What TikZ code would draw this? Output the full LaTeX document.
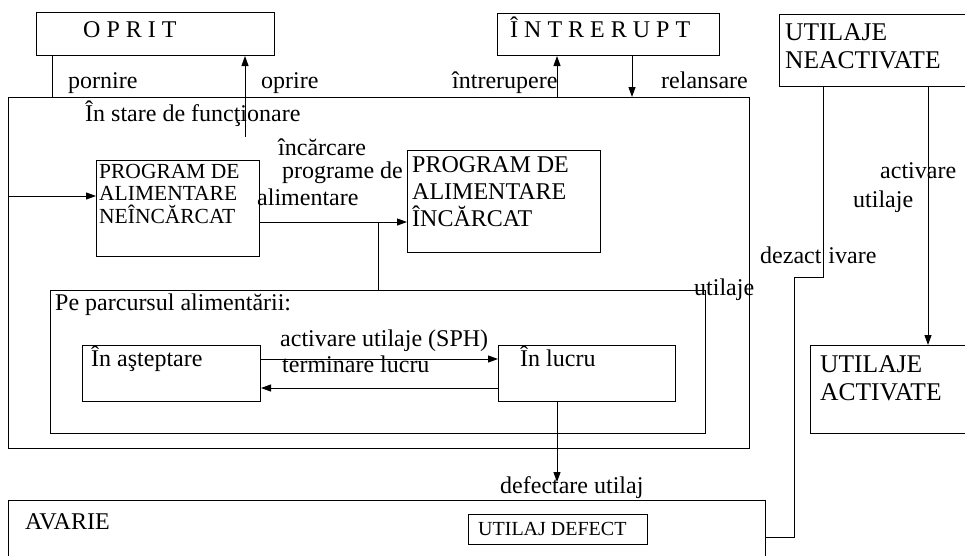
\documentclass[tikz,border=0pt]{standalone}
\usepackage{fontspec}
\setmainfont{Liberation Serif}
\usetikzlibrary{arrows.meta}
\begin{document}
\begin{tikzpicture}[x=1pt,y=-1pt,
  box/.style={draw, line width=1pt, inner sep=0pt, anchor=north west},
  txt/.style={inner sep=0pt, anchor=base west, font=\fontsize{24}{28}\selectfont},
  smalltxt/.style={txt, font=\fontsize{21.5}{24}\selectfont},
  bigtxt/.style={txt, font=\fontsize{25.5}{30}\selectfont},
  tinytxt/.style={txt, font=\fontsize{20}{24}\selectfont},
  wire/.style={line width=1pt},
  arr/.style={wire, -{Triangle[length=10pt,width=7pt]}},
]
\fill[white] (0,0) rectangle (965,555);
\useasboundingbox (0,0) rectangle (965,555);

% state boxes
\node[box, minimum width=238pt, minimum height=43pt] (oprit) at (36,12) {};
\node[box, minimum width=222pt, minimum height=42pt] (intr) at (497,13) {};
\node[box, minimum width=220pt, minimum height=72pt] (neact) at (779,14) {};
\node[box, minimum width=741pt, minimum height=351pt] (main) at (8,97) {};
\node[box, minimum width=163pt, minimum height=96pt] (neinc) at (96,160) {};
\node[box, minimum width=193pt, minimum height=102pt] (inc) at (407,150) {};
\node[box, minimum width=655pt, minimum height=143pt] (parc) at (50,290) {};
\node[box, minimum width=178pt, minimum height=56pt] (astept) at (82,345) {};
\node[box, minimum width=177pt, minimum height=56pt] (lucru) at (498,345) {};
\node[box, minimum width=200pt, minimum height=88pt] (act) at (810,345) {};
\node[box, minimum width=757pt, minimum height=80pt] (avarie) at (8,500) {};
\node[box, minimum width=179pt, minimum height=30pt] (defect) at (468,514) {};

% box titles
\node[txt] (toprit) at (83,37) {O P R I T};
\node[txt] (tintr) at (510,37) {Î N T R E R U P T};
\node[bigtxt] (tneact1) at (785,40) {UTILAJE};
\node[bigtxt] (tneact2) at (785,68) {NEACTIVATE};
\node[txt] (tstare) at (85,121) {În stare de funcţionare};
\node[smalltxt] (tn1) at (99,178) {PROGRAM DE};
\node[smalltxt] (tn2) at (99,200) {ALIMENTARE};
\node[smalltxt] (tn3) at (99,223) {NEÎNCĂRCAT};
\node[txt] (ti1) at (412,172) {PROGRAM DE};
\node[txt] (ti2) at (412,199) {ALIMENTARE};
\node[txt] (ti3) at (412,226) {ÎNCĂRCAT};
\node[txt] (tparc) at (55,310) {Pe parcursul alimentării:};
\node[txt] (tastept) at (91,366) {În aşteptare};
\node[txt] (tlucru) at (520,366) {În lucru};
\node[bigtxt] (tact1) at (820,372) {UTILAJE};
\node[bigtxt] (tact2) at (820,400) {ACTIVATE};
\node[txt] (tavarie) at (25,529) {AVARIE};
\node[tinytxt] (tdefect) at (478,535) {UTILAJ DEFECT};

% transition labels
\node[txt] (tpornire) at (68,88) {pornire};
\node[txt] (toprire) at (261,88) {oprire};
\node[txt] (tintrerupere) at (452,88) {întrerupere};
\node[txt] (trelansare) at (661,88) {relansare};
\node[txt] (tl1) at (278,155) {încărcare};
\node[txt] (tl2) at (282,178) {programe de};
\node[txt] (tl3) at (257,205) {alimentare};
\node[txt] (tsph) at (280,346) {activare utilaje (SPH)};
\node[txt] (tterm) at (282,372) {terminare lucru};
\node[txt] (tutil) at (694,295) {utilaje};
\node[txt] (tdefectare) at (500,493) {defectare utilaj};
\node[txt] (tactivare) at (880,178) {activare};
\node[txt] (tutilaje) at (853,207) {utilaje};
\node[txt] (tdezact) at (760,263) {dezact\kern7pt ivare};

% reference abscissae / ordinates for the connectors
\coordinate (xpor) at (52,0);
\coordinate (xintr) at (557,0);
\coordinate (xrel) at (632,0);
\coordinate (xload) at (378,0);
\coordinate (xdezA) at (823,0);
\coordinate (xdezB) at (794,0);
\coordinate (xact) at (928,0);
\coordinate (yfeed) at (0,196);
\coordinate (yload) at (0,222);
\coordinate (ygo) at (0,359);
\coordinate (yback) at (0,388);
\coordinate (ydez) at (0,277);
\coordinate (yav) at (0,537);
\coordinate (oprfoot) at (245,137);
\coordinate (deftip) at (557,482);

% connectors
\draw[wire] (oprit.south -| xpor) -- (main.north -| xpor);
\draw[arr] (oprfoot) -- (oprit.south -| oprfoot);
\draw[arr] (main.north -| xintr) -- (intr.south -| xintr);
\draw[arr] (intr.south -| xrel) -- (main.north -| xrel);
\draw[arr] (main.west |- yfeed) -- (neinc.west |- yfeed);
\draw[arr] (neinc.east |- yload) -- (inc.west |- yload);
\draw[wire] (xload |- yload) -- (parc.north -| xload);
\draw[arr] (astept.east |- ygo) -- (lucru.west |- ygo);
\draw[arr] (lucru.west |- yback) -- (astept.east |- yback);
\draw[arr] (lucru.south -| deftip) -- (deftip);
\draw[arr] (neact.south -| xact) -- (act.north -| xact);
\draw[wire] (neact.south -| xdezA) -- (xdezA |- ydez) -- (xdezB |- ydez)
  -- (xdezB |- yav) -- (avarie.east |- yav);
\end{tikzpicture}
\end{document}
